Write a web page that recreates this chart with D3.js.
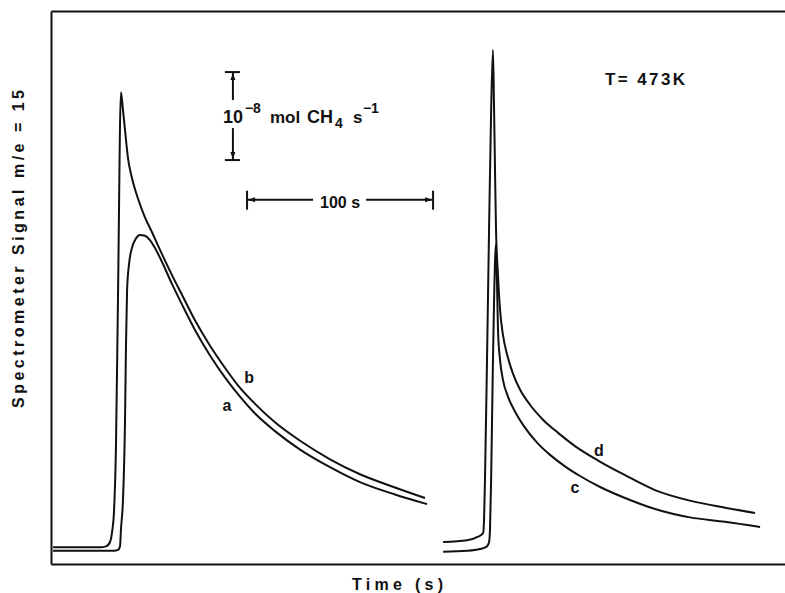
<!DOCTYPE html>
<html>
<head>
<meta charset="utf-8">
<script src="https://cdn.jsdelivr.net/npm/d3@7"></script>
<style>
  body { margin: 0; background: #fff; }
  svg { display: block; }
  text { font-family: "Liberation Sans", Arial, sans-serif; fill: #111; font-weight: bold; }
</style>
</head>
<body>
<svg id="chart" width="785" height="593"></svg>
<script>
// transient CH4 signal (m/e = 15), time in s, signal in 1e-8 mol CH4 s^-1

// curve b: sharp peak, left run
const curveB = [
  [1.1, 0.19], [26.3, 0.19], [29.6, 0.20], [31.7, 0.25], [32.8, 0.36], [33.9, 0.61],
  [34.9, 1.30], [36.0, 3.00], [37.6, 5.36], [38.7, 5.16], [39.8, 4.93], [41.4, 4.61],
  [43.5, 4.39], [46.8, 4.15], [50.5, 3.94], [54.3, 3.77], [58.6, 3.57], [65.1, 3.28],
  [70.4, 3.06], [77.4, 2.77], [85.5, 2.48], [93.5, 2.23], [100.5, 2.03], [109.7, 1.82],
  [120.4, 1.61], [133.9, 1.40], [150.0, 1.19], [166.1, 1.02], [184.9, 0.87], [201.1, 0.75]
];

// curve a: rounded peak, left run
const curveA = [
  [1.1, 0.15], [26.3, 0.15], [33.9, 0.15], [36.0, 0.16], [37.1, 0.20], [37.6, 0.39],
  [38.7, 0.73], [39.8, 1.64], [40.3, 2.47], [40.9, 3.11], [41.9, 3.40], [43.5, 3.59],
  [45.7, 3.70], [47.8, 3.74], [50.5, 3.73], [53.2, 3.68], [55.9, 3.59], [58.6, 3.48],
  [65.1, 3.18], [70.4, 2.95], [77.4, 2.66], [85.5, 2.37], [93.5, 2.12], [100.5, 1.93],
  [109.7, 1.71], [120.4, 1.51], [133.9, 1.30], [150.0, 1.10], [166.1, 0.93],
  [184.9, 0.79], [202.2, 0.68]
];

// curve d: tall narrow peak, right run
const curveD = [
  [210.8, 0.25], [223.7, 0.27], [229.6, 0.31], [232.3, 0.35], [232.8, 0.50], [233.3, 0.95],
  [234.4, 2.32], [235.5, 3.80], [236.6, 5.13], [237.6, 5.84], [238.2, 5.16], [238.7, 4.48],
  [239.2, 3.85], [240.3, 3.28], [241.4, 2.89], [243.0, 2.60], [245.2, 2.38], [248.4, 2.16],
  [252.2, 1.98], [257.5, 1.81], [264.5, 1.64], [272.6, 1.49], [281.7, 1.34], [294.6, 1.17],
  [308.6, 1.01], [324.7, 0.84], [343.5, 0.72], [362.4, 0.64], [378.5, 0.58]
];

// curve c: lower narrow peak, right run
const curveC = [
  [210.8, 0.14], [223.7, 0.15], [230.6, 0.17], [234.4, 0.20], [235.5, 0.25], [236.0, 0.39],
  [236.6, 0.95], [237.6, 2.32], [238.2, 3.00], [239.2, 3.63], [239.8, 3.17], [240.3, 2.66],
  [241.4, 2.32], [243.0, 2.09], [245.7, 1.90], [249.5, 1.73], [254.8, 1.55], [261.3, 1.38],
  [268.3, 1.24], [276.3, 1.11], [284.4, 1.00], [295.2, 0.875], [308.6, 0.75], [324.7, 0.625],
  [343.5, 0.53], [362.4, 0.48], [381.2, 0.42]
];

const curveNames = ["a", "b", "c", "d"];
// label anchor for each curve, same units as the data
const labelTimes = [94.6, 106.5, 281.7, 294.6];
const labelSignals = [1.81, 2.13, 0.875, 1.30];

const timeDomain = [0, 394.6];
const signalDomain = [0, 6.284];

// scale bars: 1 unit of signal, 100 s of time
const rateBar = { t: 97.8, s0: 4.59, s1: 5.59 };
const timeBar = { t0: 105.4, t1: 205.4, s: 4.14 };

const W = 785, H = 593;
const margin = { top: 11, right: 0, bottom: 29, left: 51 };

const svg = d3.select("#chart");

const x = d3.scaleLinear().domain(timeDomain).range([margin.left, W - margin.right]);
const y = d3.scaleLinear().domain(signalDomain).range([H - margin.bottom, margin.top]);

// frame: left, top, bottom spines, no ticks
function spine(g) {
  g.select(".domain").attr("stroke", "#111").attr("stroke-width", 2);
}
svg.append("g")
  .attr("transform", `translate(0,${y(0)})`)
  .call(d3.axisBottom(x).tickValues([]).tickSizeOuter(0))
  .call(spine);
svg.append("g")
  .attr("transform", `translate(0,${y(signalDomain[1])})`)
  .call(d3.axisTop(x).tickValues([]).tickSizeOuter(0))
  .call(spine);
svg.append("g")
  .attr("transform", `translate(${x(0)},0)`)
  .call(d3.axisLeft(y).tickValues([]).tickSizeOuter(0))
  .call(spine);

// curves
const line = d3.line()
  .x(d => x(d[0]))
  .y(d => y(d[1]))
  .curve(d3.curveMonotoneX);

[curveA, curveB, curveC, curveD].forEach(c => {
  svg.append("path")
    .attr("d", line(c))
    .attr("fill", "none")
    .attr("stroke", "#111")
    .attr("stroke-width", 2)
    .attr("stroke-linejoin", "round");
});

curveNames.forEach((n, i) => {
  svg.append("text")
    .attr("x", x(labelTimes[i]))
    .attr("y", y(labelSignals[i]) + 6)
    .attr("text-anchor", "middle")
    .attr("font-size", 16)
    .text(n);
});

// -- vertical scale bar (10^-8 mol CH4 s^-1) --
const vx = x(rateBar.t), vTop = y(rateBar.s1), vBot = y(rateBar.s0);
const g1 = svg.append("g").attr("stroke", "#111").attr("stroke-width", 2);
g1.append("line").attr("x1", vx).attr("x2", vx).attr("y1", vTop).attr("y2", vTop + 28);
g1.append("line").attr("x1", vx).attr("x2", vx).attr("y1", vBot - 32).attr("y2", vBot);
g1.append("line").attr("x1", vx - 8).attr("x2", vx + 7).attr("y1", vTop).attr("y2", vTop);
g1.append("line").attr("x1", vx - 8).attr("x2", vx + 7).attr("y1", vBot).attr("y2", vBot);
svg.append("path")
  .attr("d", `M${vx},${vTop + 1}l-2.5,7h5z M${vx},${vBot - 1}l-2.5,-7h5z`)
  .attr("fill", "#111");

const base = vTop + 51;
const rt = svg.append("g");
rt.append("text").attr("x", vx - 10).attr("y", base).attr("font-size", 18).text("10");
rt.append("text").attr("x", vx + 12).attr("y", base - 10).attr("font-size", 14).text("−8");
rt.append("text").attr("x", vx + 37).attr("y", base).attr("font-size", 17).text("mol");
rt.append("text").attr("x", vx + 74).attr("y", base).attr("font-size", 18).text("CH");
rt.append("text").attr("x", vx + 102).attr("y", base + 5).attr("font-size", 14).text("4");
rt.append("text").attr("x", vx + 120).attr("y", base).attr("font-size", 17).text("s");
rt.append("text").attr("x", vx + 130).attr("y", base - 10).attr("font-size", 14).text("−1");

// -- horizontal scale bar (100 s) --
const hy = y(timeBar.s), hL = x(timeBar.t0), hR = x(timeBar.t1);
const g2 = svg.append("g").attr("stroke", "#111").attr("stroke-width", 2);
g2.append("line").attr("x1", hL).attr("x2", (hL + hR) / 2 - 27).attr("y1", hy).attr("y2", hy);
g2.append("line").attr("x1", (hL + hR) / 2 + 26).attr("x2", hR).attr("y1", hy).attr("y2", hy);
g2.append("line").attr("x1", hL).attr("x2", hL).attr("y1", hy - 9).attr("y2", hy + 10);
g2.append("line").attr("x1", hR).attr("x2", hR).attr("y1", hy - 9).attr("y2", hy + 10);
svg.append("path")
  .attr("d", `M${hL + 1},${hy}l7,-2.5v5z M${hR - 1},${hy}l-7,-2.5v5z`)
  .attr("fill", "#111");
svg.append("text")
  .attr("x", (hL + hR) / 2)
  .attr("y", hy + 8)
  .attr("text-anchor", "middle")
  .attr("font-size", 16)
  .text("100 s");

// temperature note
svg.append("text")
  .attr("x", 605).attr("y", 85)
  .attr("font-size", 17)
  .attr("textLength", 80).attr("lengthAdjust", "spacing")
  .text("T= 473K");

// axis titles
svg.append("text")
  .attr("x", 352).attr("y", 590)
  .attr("font-size", 16)
  .attr("textLength", 91).attr("lengthAdjust", "spacing")
  .text("Time (s)");

svg.append("text")
  .attr("transform", "translate(24,408) rotate(-90)")
  .attr("font-size", 16)
  .attr("textLength", 318).attr("lengthAdjust", "spacing")
  .text("Spectrometer Signal m/e = 15");
</script>
</body>
</html>
